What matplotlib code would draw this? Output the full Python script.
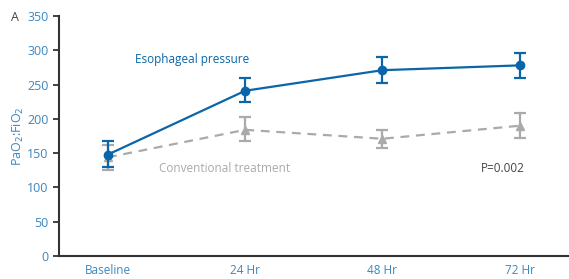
import numpy as np
from matplotlib import pyplot as plt

plt.rcParams['font.family'] = ['Open Sans', 'DejaVu Sans']

# data
labels = ['Baseline', '24 Hr', '48 Hr', '72 Hr']
eso_mean = [148, 241, 271, 278]
eso_lo = [130, 224, 253, 259]
eso_hi = [167, 259, 290, 296]
conv_mean = [144, 184, 171, 190]
conv_lo = [126, 167, 158, 172]
conv_hi = [162, 202, 184, 209]

blue = '#0a66a8'
grey = '#aaaaaa'
tick_blue = '#3a87c0'

x = np.arange(len(labels))

fig = plt.figure(figsize=(5.69, 2.79), dpi=100)
ax = fig.add_axes([0.1037, 0.0824, 0.8963, 0.8602])

conv_err = [np.subtract(conv_mean, conv_lo), np.subtract(conv_hi, conv_mean)]
ax.errorbar(x, conv_mean, yerr=conv_err, color=grey, lw=1.6, ls=(0, (4, 3)),
            marker='^', ms=6, capsize=4, capthick=1.6, elinewidth=1.6, zorder=2)
eso_err = [np.subtract(eso_mean, eso_lo), np.subtract(eso_hi, eso_mean)]
ax.errorbar(x, eso_mean, yerr=eso_err, color=blue, lw=1.6, marker='o', ms=6,
            capsize=4, capthick=1.6, elinewidth=1.6, zorder=3)

ax.set_xlim(-0.357, 3.36)
ax.set_ylim(0, 350)
ax.set_yticks(np.arange(0, 351, 50))
ax.set_xticks(x)
ax.set_xticklabels(labels)
ax.tick_params(axis='y', colors='#222222', labelcolor=tick_blue, labelsize=9,
               length=4, width=1.2, direction='out')
ax.tick_params(axis='x', length=0, labelcolor=tick_blue, labelsize=8.5, pad=6)
for s in ['top', 'right']:
    ax.spines[s].set_visible(False)
for s in ['left', 'bottom']:
    ax.spines[s].set_linewidth(1.5)
    ax.spines[s].set_color('#333333')

ax.set_ylabel('PaO$_2$:FiO$_2$', color=tick_blue, fontsize=9, labelpad=1)

ax.text(0.2, 287, 'Esophageal pressure', color=blue, fontsize=8.5, ha='left', va='center')
ax.text(0.37, 128, 'Conventional treatment', color=grey, fontsize=8.5, ha='left', va='center')
ax.text(2.72, 128, 'P=0.002', color='#444444', fontsize=8.5, ha='left', va='center')
fig.text(0.02, 0.925, 'A', fontsize=9, color='#444444')

plt.savefig('out.png', dpi=100)
